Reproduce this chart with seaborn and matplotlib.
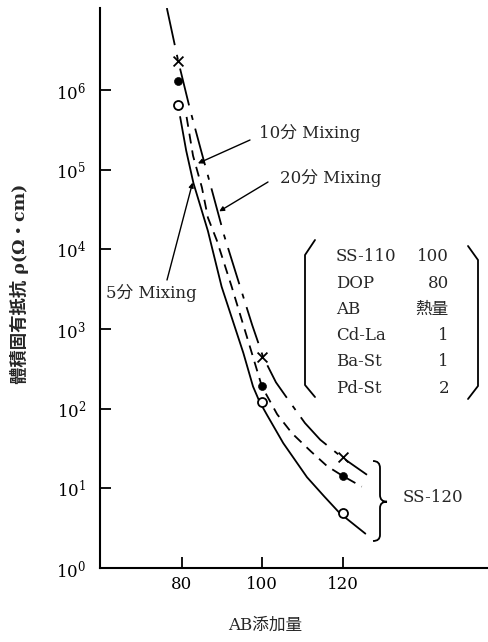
import numpy as np
import pandas as pd
import matplotlib
matplotlib.use("Agg")
import matplotlib.pyplot as plt
from matplotlib.path import Path
from matplotlib.patches import PathPatch
from matplotlib.ticker import FuncFormatter, NullLocator
import seaborn as sns

# measured points: AB amount vs volume resistivity (ohm*cm)
ab_amount = [79, 100, 120]
rho_5min = [6.5e5, 123, 4.9]
rho_10min = [1.3e6, 190, 14.4]
rho_20min = [2.3e6, 447, 24.5]

# curves
curve_5min_x = [79.6, 81.1, 82.9, 86.5, 89.9, 95.3, 97.7, 99.3, 101.2, 105.2, 111.1, 115.4, 119.2, 125.6]
curve_5min_y = [4.6e5, 1.74e5, 6.8e4, 1.7e4, 3.4e3, 500, 190, 123, 83, 37, 13.8, 7.9, 4.9, 2.7]
curve_10min_x = [81.2, 82.8, 85.0, 86.5, 88.7, 92.4, 97.4, 99.9, 103.7, 107.4, 112.1, 116.1, 119.8, 124.7]
curve_10min_y = [4.6e5, 1.5e5, 6.0e4, 2.5e4, 1.3e4, 3.4e3, 500, 190, 85, 49, 29, 19, 14.5, 10.5]
curve_20min_x = [76.3, 79.1, 82.1, 84.8, 87.5, 90.5, 94.5, 97.5, 100.2, 103.4, 106.9, 110.6, 114.4, 119.8, 126.0]
curve_20min_y = [1.07e7, 2.34e6, 5.6e5, 1.74e5, 5.5e4, 1.51e4, 3.39e3, 1.12e3, 447, 214, 120, 66, 40.7, 24.5, 14.8]

mix_labels = ["5分 Mixing", "10分 Mixing", "20分 Mixing"]

recipe_names = ["SS-110", "DOP", "AB", "Cd-La", "Ba-St", "Pd-St"]
recipe_parts = ["100", "80", "熱量", "1", "1", "2"]

sns.set_theme(style="ticks")
plt.rcParams["font.family"] = ["DejaVu Serif", "Noto Sans CJK JP"]
plt.rcParams["mathtext.fontset"] = "dejavuserif"

W, H = 489, 642
L, R, T, B = 100, 489, 8, 568


def px(xp, yp):
    # pixel position in the image -> axes fraction
    return (xp - L) / (R - L), (B - yp) / (B - T)


fig = plt.figure(figsize=(W / 100, H / 100), dpi=100)
ax = fig.add_axes([L / W, 1 - B / H, (R - L) / W, (B - T) / H])
ax.set_yscale("log")

curves = pd.concat([
    pd.DataFrame({"ab": curve_5min_x, "rho": curve_5min_y, "mix": "5min"}),
    pd.DataFrame({"ab": curve_10min_x, "rho": curve_10min_y, "mix": "10min"}),
    pd.DataFrame({"ab": curve_20min_x, "rho": curve_20min_y, "mix": "20min"}),
])
sns.lineplot(
    data=curves, x="ab", y="rho", style="mix",
    dashes={"5min": "", "10min": (5.5, 3.9), "20min": (21, 5.5, 2.8, 5)},
    color="black", lw=1.3, sort=False, estimator=None, legend=False, ax=ax,
)

sns.scatterplot(x=ab_amount, y=rho_20min, marker="x", color="black", s=50,
                linewidth=1.3, ax=ax, zorder=4)
sns.scatterplot(x=ab_amount, y=rho_10min, marker="o", color="black", s=33,
                edgecolor="black", ax=ax, zorder=4)
sns.scatterplot(x=ab_amount, y=rho_5min, marker="o", color="white", s=42,
                edgecolor="black", linewidth=1.3, ax=ax, zorder=4)

ax.set_xlim(59.7, 156.3)
ax.set_ylim(1, 10 ** 7.03)
ax.set_xticks([80, 100, 120])
ax.set_yticks([10.0 ** k for k in range(7)])
ax.yaxis.set_minor_locator(NullLocator())
ax.yaxis.set_major_formatter(FuncFormatter(
    lambda v, p: r"$\mathregular{10^{%d}}$" % round(np.log10(v))))
ax.tick_params(direction="in", length=8, width=1.3, labelsize=12, colors="black")
ax.tick_params(axis="y", pad=10)
ax.tick_params(axis="x", pad=6)
for side in ["top", "right"]:
    ax.spines[side].set_visible(False)
for side in ["left", "bottom"]:
    ax.spines[side].set_linewidth(1.5)
    ax.spines[side].set_color("black")

ax.set_xlabel("AB添加量", fontsize=12)
ax.xaxis.set_label_coords(*px(265, 617))
ax.set_ylabel("體積固有抵抗 ρ(Ω・cm)", fontsize=12.5, fontweight="bold")
ax.yaxis.set_label_coords(*px(29, 284))

# curve labels with leader arrows
arrow = dict(arrowstyle="-|>", lw=1, color="black", shrinkA=0, shrinkB=0,
             mutation_scale=7)
labels = [
    (mix_labels[0], (82.7, 6.9e4), (167, 280), (106, 293)),
    (mix_labels[1], (84.0, 1.2e5), (250, 140), (259, 133)),
    (mix_labels[2], (89.3, 3.0e4), (268, 182), (280, 178)),
]
for text, tip, start, pos in labels:
    ax.annotate("", xy=tip, xycoords="data", xytext=px(*start),
                textcoords="axes fraction", arrowprops=arrow)
    ax.text(*px(*pos), text, transform=ax.transAxes, ha="left", va="center",
            fontsize=12)

# recipe table in brackets
for i, (name, part) in enumerate(zip(recipe_names, recipe_parts)):
    y = 256.7 + i * 26.3
    ax.text(*px(336, y), name, transform=ax.transAxes, ha="left", va="center", fontsize=12)
    ax.text(*px(449, y), part, transform=ax.transAxes, ha="right", va="center", fontsize=12)

for pts in ([(315, 240), (305, 255), (305, 385), (315, 397)],
            [(468, 246), (478, 260), (478, 386), (468, 399)]):
    xy = [px(a, b) for a, b in pts]
    ax.plot([p[0] for p in xy], [p[1] for p in xy], color="black", lw=1.3,
            transform=ax.transAxes, clip_on=False)

# curly brace for SS-120
brace_pts = [(373, 461), (380, 461), (380, 468), (380, 495), (380, 501.7),
             (387, 501.7), (380, 501.7), (380, 508), (380, 535), (380, 541), (373, 541)]
codes = [Path.MOVETO, Path.CURVE3, Path.CURVE3, Path.LINETO, Path.CURVE3, Path.CURVE3,
         Path.CURVE3, Path.CURVE3, Path.LINETO, Path.CURVE3, Path.CURVE3]
brace = Path([px(a, b) for a, b in brace_pts], codes)
ax.add_patch(PathPatch(brace, fill=False, lw=1.3, color="black",
                       transform=ax.transAxes, clip_on=False))
ax.text(*px(403, 498), "SS-120", transform=ax.transAxes, ha="left", va="center", fontsize=12)

fig.savefig("out.png", dpi=100)
